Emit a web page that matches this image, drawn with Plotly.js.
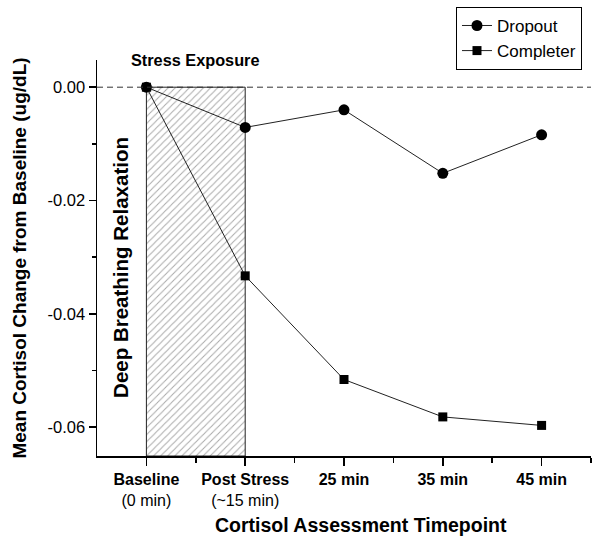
<!DOCTYPE html>
<html>
<head>
<meta charset="utf-8">
<script src="https://cdn.plot.ly/plotly-3.0.1.min.js"></script>
<style>html,body{margin:0;padding:0;background:#fff;}#chart{width:602px;height:547px;}</style>
</head>
<body>
<div id="chart"></div>
<script>
const categories = ["<b>Baseline</b><br>(0 min)", "<b>Post Stress</b><br>(~15 min)", "<b>25 min</b>", "<b>35 min</b>", "<b>45 min</b>"];
const categoryPositions = [0, 1, 2, 3, 4];
const dropout = [0, -0.0071, -0.0040, -0.0152, -0.0084];
const completer = [0, -0.0333, -0.0516, -0.0582, -0.0597];
const shadedStart = 0;   // Baseline
const shadedEnd = 1;     // Post Stress
const yTicks = [0, -0.02, -0.04, -0.06];
const yTickLabels = ["0.00", "-0.02", "-0.04", "-0.06"];
const yMinorTicks = [-0.01, -0.03, -0.05];
const xMinorTicks = [0.5, 1.5, 2.5, 3.5, 4.5];
const yRange = [-0.0651, 0.0048];
const xRange = [-0.5, 4.5];

const font = "Arial, 'Liberation Sans', sans-serif";

const traces = [
  {
    type: "bar",
    x: [(shadedStart + shadedEnd) / 2],
    y: [yRange[0]],
    base: 0,
    width: [shadedEnd - shadedStart],
    marker: {
      color: "white",
      line: {color: "#222", width: 1},
      pattern: {shape: "/", fgcolor: "#aaa", bgcolor: "white", size: 5, solidity: 0.2}
    },
    showlegend: false,
    hoverinfo: "skip"
  },
  {
    type: "scatter", mode: "lines+markers", name: "Dropout",
    x: categoryPositions, y: dropout,
    line: {color: "#222", width: 1},
    marker: {symbol: "circle", size: 11, color: "#000"},
    cliponaxis: false
  },
  {
    type: "scatter", mode: "lines+markers", name: "Completer",
    x: categoryPositions, y: completer,
    line: {color: "#222", width: 1},
    marker: {symbol: "square", size: 9, color: "#000"},
    cliponaxis: false
  }
];

const layout = {
  width: 602, height: 547,
  margin: {l: 97, r: 11, t: 60, b: 91, autoexpand: false},
  paper_bgcolor: "white", plot_bgcolor: "white",
  font: {family: font, color: "#000", size: 16},
  showlegend: true,
  legend: {
    x: 0.7267, y: 1.134, xanchor: "left", yanchor: "top",
    bordercolor: "#000", borderwidth: 1, bgcolor: "white",
    font: {size: 17, family: font},
    tracegroupgap: 0, itemwidth: 30
  },
  xaxis: {
    range: xRange, showgrid: false, zeroline: false,
    showline: true, linecolor: "#000", linewidth: 1.5,
    tickmode: "array", tickvals: categoryPositions, ticktext: categories, tickangle: 0,
    ticks: "outside", ticklen: 8, tickwidth: 1.5, tickcolor: "#000",
    tickfont: {size: 16, family: font},
    minor: {tickmode: "array", tickvals: xMinorTicks, ticks: "outside", ticklen: 5, tickwidth: 1.5, tickcolor: "#000"}
  },
  yaxis: {
    range: yRange, showgrid: false, zeroline: false,
    showline: true, linecolor: "#000", linewidth: 1.5,
    tickmode: "array", tickvals: yTicks, ticktext: yTickLabels,
    ticks: "outside", ticklen: 7, tickwidth: 1.5, tickcolor: "#000",
    tickfont: {size: 16.5, family: font},
    minor: {tickmode: "array", tickvals: yMinorTicks, ticks: "outside", ticklen: 4, tickwidth: 1.5, tickcolor: "#000"},
    title: {text: "<b>Mean Cortisol Change from Baseline (ug/dL)</b>", font: {size: 19, family: font}, standoff: 16}
  },
  shapes: [
    {type: "line", xref: "paper", x0: 0, x1: 1, yref: "y", y0: 0, y1: 0,
     line: {color: "#333", width: 1, dash: "6px,4px"}}
  ],
  annotations: [
    {text: "<b>Cortisol Assessment Timepoint</b>", xref: "paper", yref: "paper", x: 0.534, y: -0.174,
     xanchor: "center", yanchor: "middle", showarrow: false, font: {size: 19.5, family: font}},
    {text: "<b>Stress Exposure</b>", xref: "x", yref: "paper", x: (shadedStart + shadedEnd) / 2, y: 1.0,
     xanchor: "center", yanchor: "middle", showarrow: false, font: {size: 16.3, family: font}},
    {text: "<b>Deep Breathing Relaxation</b>", xref: "x", yref: "paper", x: shadedStart, y: 0.5,
     xanchor: "left", yanchor: "middle", textangle: -90, showarrow: false, font: {size: 20.5, family: font}, xshift: -40, yshift: -9}
  ]
};

Plotly.newPlot("chart", traces, layout, {displayModeBar: false, staticPlot: true});
</script>
</body>
</html>
